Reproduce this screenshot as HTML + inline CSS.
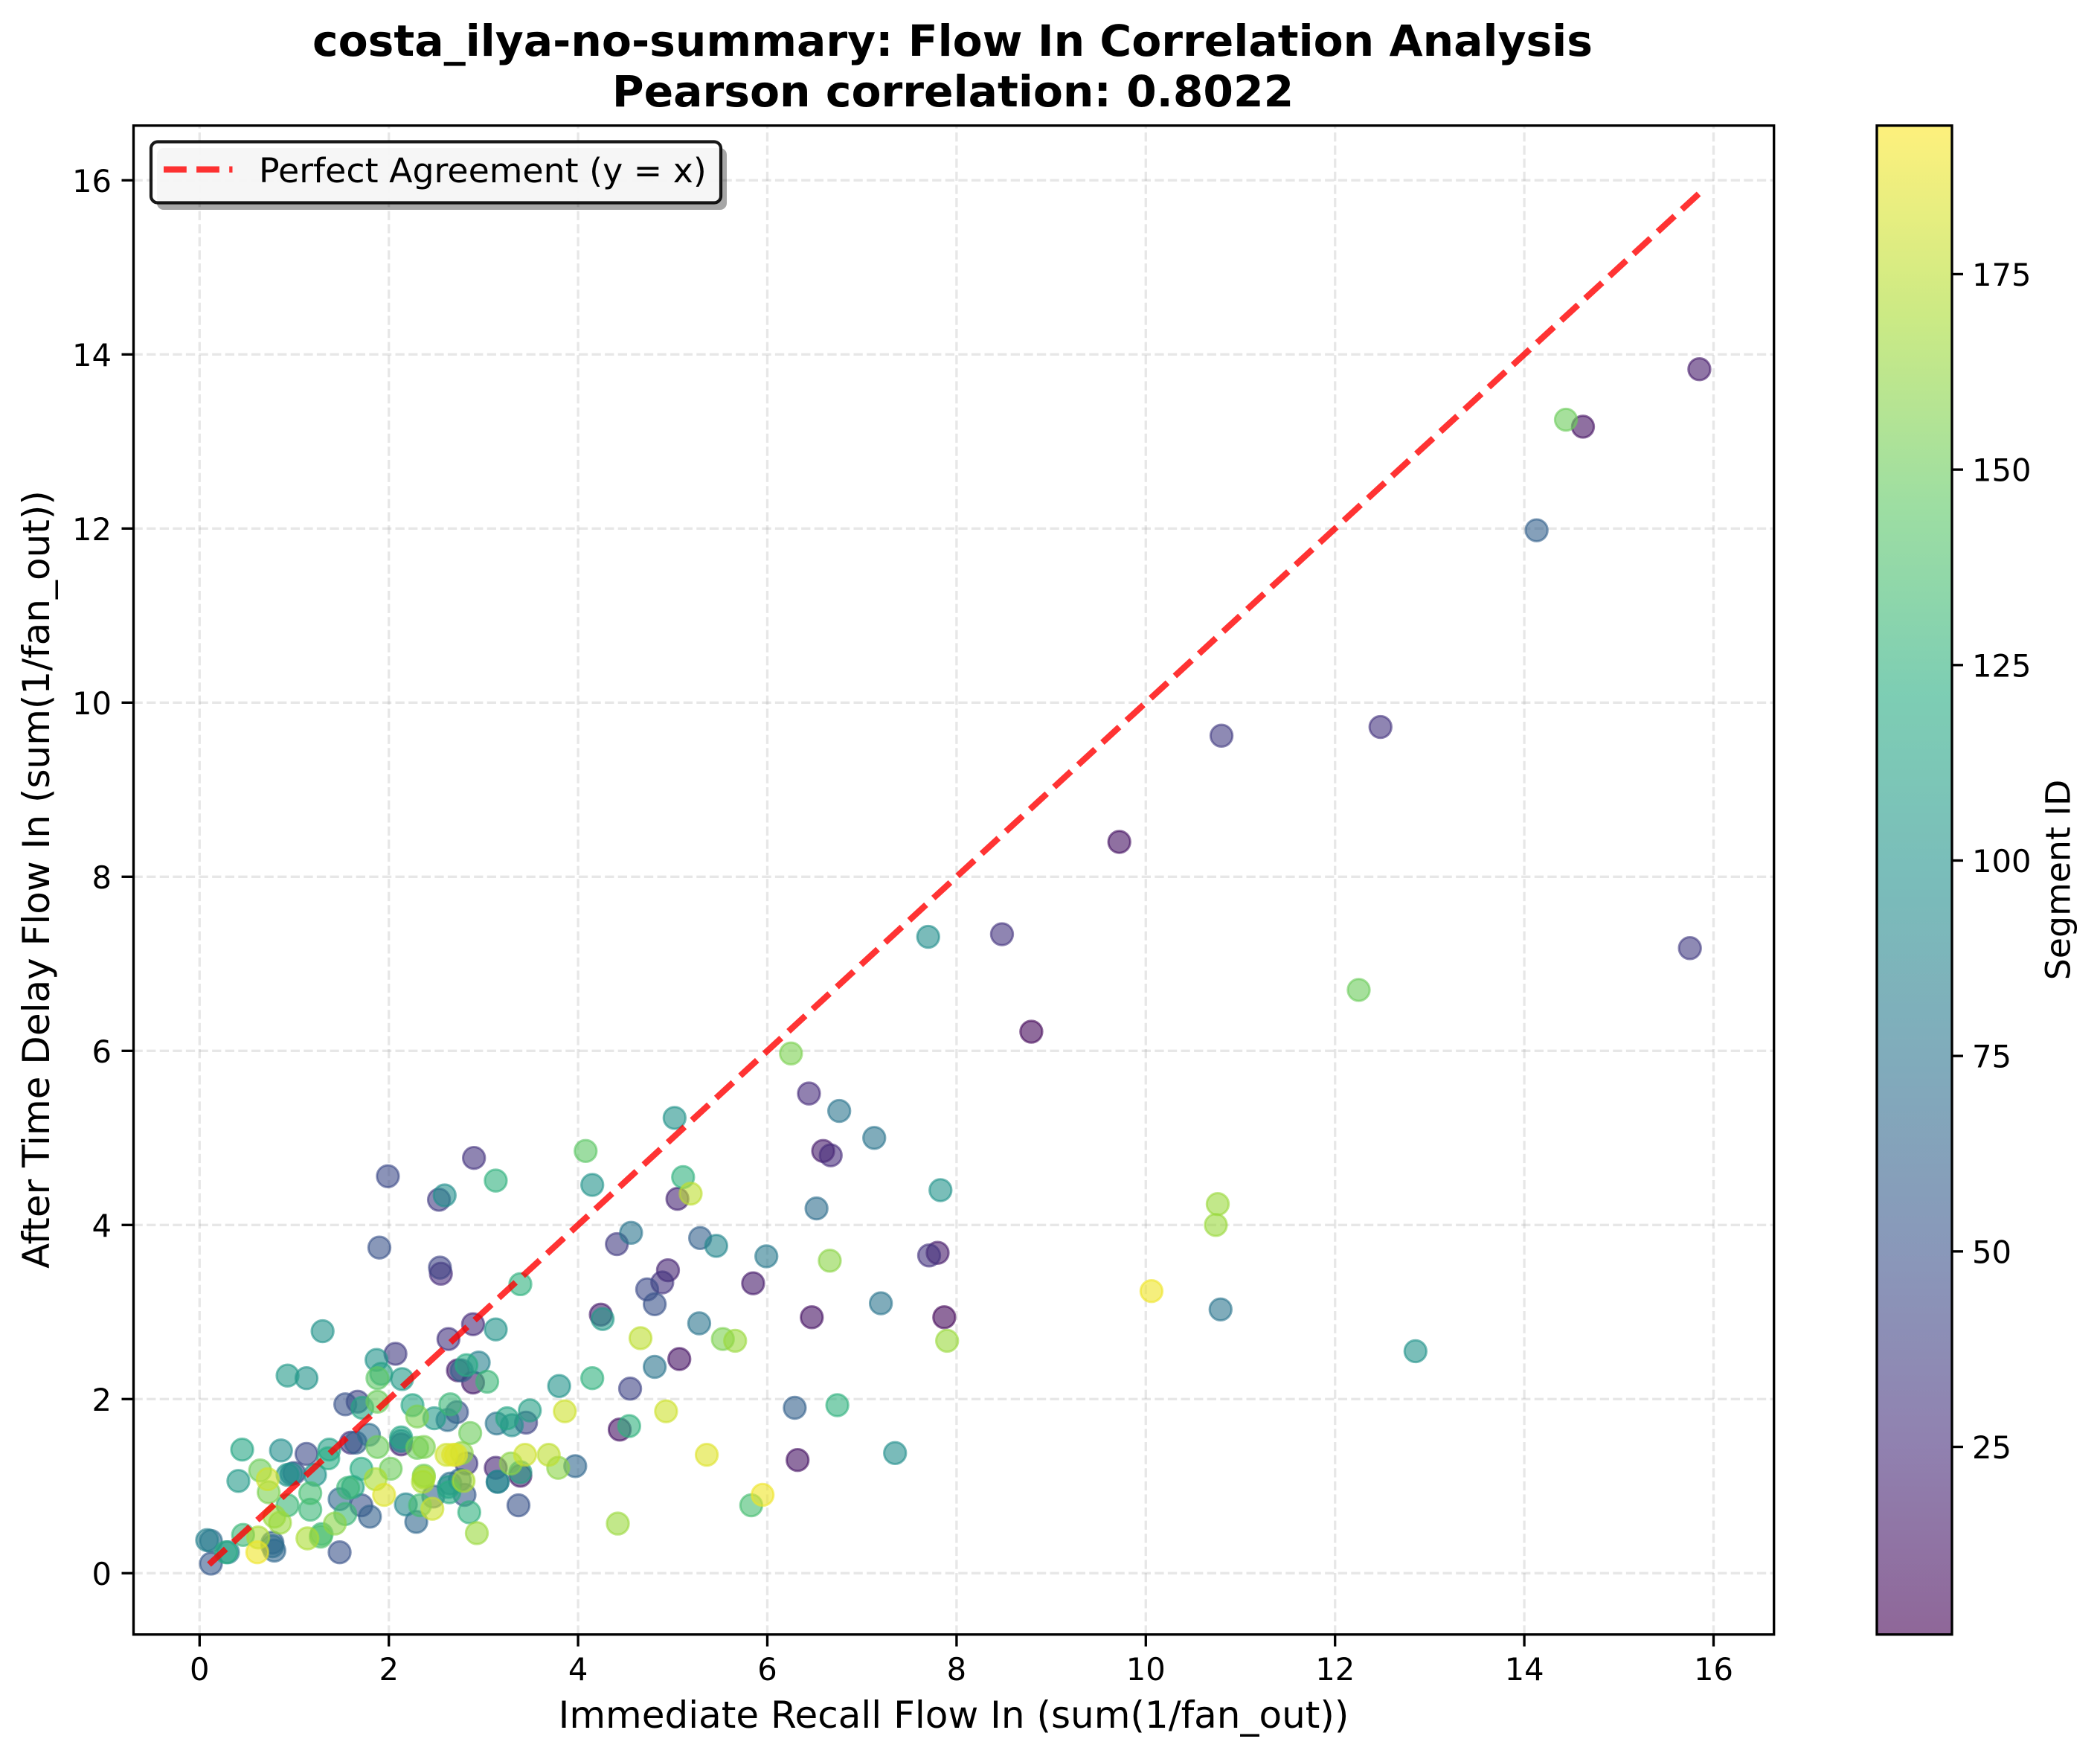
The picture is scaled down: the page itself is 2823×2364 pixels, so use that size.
<!DOCTYPE html>
<html lang="en">
<head>
<meta charset="utf-8">
<title>costa_ilya-no-summary: Flow In Correlation Analysis</title>
<style>
html,body{margin:0;padding:0;background:#fff;}
svg{display:block;}
text{font-family:"DejaVu Sans","Liberation Sans",sans-serif;fill:#000;}
</style>
</head>
<body>
<svg id="chart" xmlns="http://www.w3.org/2000/svg" width="2823" height="2364" viewBox="0 0 2823 2364">
  <defs>
    <linearGradient id="cbGradient" x1="0" y1="1" x2="0" y2="0"></linearGradient>
    <clipPath id="plotClip"><rect x="179.5" y="168.5" width="2205" height="2028"></rect></clipPath>
  </defs>
  <rect x="0" y="0" width="2823" height="2364" fill="#ffffff"></rect>
  <text x="1280.5" y="75" text-anchor="middle" font-size="58.33" font-weight="700">costa_ilya-no-summary: Flow In Correlation Analysis</text>
  <text x="1281" y="143" text-anchor="middle" font-size="58.33" font-weight="700">Pearson correlation: 0.8022</text>
  <g id="grid"></g>
  <g id="points" clip-path="url(#plotClip)"></g>
  <line id="refLine" stroke="#ff0000" stroke-opacity="0.8" stroke-width="8.33" stroke-dasharray="30.8 13.3"></line>
  <rect x="179.5" y="168.8" width="2205.2" height="2027.9" fill="none" stroke="#000" stroke-width="3.33"></rect>
  <g id="ticks"></g>
  <text x="1282" y="2322" text-anchor="middle" font-size="50">Immediate Recall Flow In (sum(1/fan_out))</text>
  <text transform="translate(66 1182) rotate(-90)" text-anchor="middle" font-size="50">After Time Delay Flow In (sum(1/fan_out))</text>
  <g>
    <rect x="211" y="199" width="766" height="83" rx="9" fill="#000" fill-opacity="0.35"></rect>
    <rect x="203" y="190.5" width="766" height="82" rx="9" fill="#fff" fill-opacity="0.9" stroke="#000" stroke-opacity="0.9" stroke-width="4.2"></rect>
    <line x1="220" y1="227.7" x2="312.5" y2="227.7" stroke="#ff0000" stroke-opacity="0.8" stroke-width="8.33" stroke-dasharray="30.8 13.3"></line>
    <text x="348" y="245" font-size="45.83">Perfect Agreement (y = x)</text>
  </g>
  <g>
    <rect x="2523" y="168.8" width="101" height="2027.9" fill="url(#cbGradient)" fill-opacity="0.6"></rect>
    <rect x="2523" y="168.8" width="101" height="2027.9" fill="none" stroke="#000" stroke-width="3.33"></rect>
    <g id="cbTicks"></g>
    <text transform="translate(2782.5 1182.5) rotate(-90)" text-anchor="middle" font-size="45.83">Segment ID</text>
  </g>
</svg>
<script>
const immediateFlow = [
1.30,0.93,1.13,2.07,1.87,1.92,1.88,2.14,2.63,2.89,2.54,2.55,1.54,1.67,1.72,1.88,2.25,2.30,2.48,2.62,
2.65,2.72,2.73,2.77,2.82,2.95,2.89,3.04,2.86,1.60,1.65,1.79,1.88,2.13,2.13,2.13,2.30,2.37,2.61,2.68,
2.71,2.77,2.82,2.37,2.36,2.37,2.65,2.64,2.63,2.79,2.75,2.80,2.85,2.93,2.18,2.33,2.47,2.46,2.29,0.45,
0.86,1.13,1.37,1.36,0.41,0.64,0.72,0.73,0.93,1.00,0.97,1.22,1.17,1.71,2.02,1.86,1.95,1.48,1.62,1.57,
1.71,1.80,1.54,0.93,1.17,0.79,0.85,1.43,1.29,1.28,1.14,1.48,0.08,0.12,0.46,0.62,0.61,0.77,0.79,0.77,
0.12,0.28,0.30,
3.39,3.13,4.95,4.89,4.73,4.81,5.85,6.47,4.24,4.26,4.66,5.28,5.53,5.66,4.81,5.07,3.80,4.15,4.55,6.29,
3.86,4.93,4.44,4.54,3.14,3.25,3.30,3.49,3.45,5.36,6.32,5.95,5.83,4.42,3.13,3.29,3.44,3.69,3.79,3.97,
3.15,3.15,3.39,3.39,3.37,
1.99,2.90,3.13,2.59,2.53,4.08,4.15,5.02,5.11,5.19,5.05,1.90,4.41,4.56,5.29,5.46,5.99,
8.79,6.25,6.44,6.76,7.13,6.59,6.67,7.83,6.52,7.71,7.80,10.76,10.74,6.66,10.06,10.79,7.20,
7.35,6.74,7.87,7.90,12.85,12.25,7.70,8.48,9.72,10.80,12.48,15.75,14.13,14.44,14.62,15.85
];
const delayedFlow = [
2.78,2.27,2.24,2.52,2.45,2.29,2.24,2.23,2.69,2.86,3.51,3.44,1.94,1.97,1.90,1.97,1.93,1.80,1.78,1.76,
1.94,1.85,2.33,2.33,2.39,2.42,2.19,2.20,1.61,1.50,1.50,1.59,1.45,1.56,1.52,1.48,1.44,1.45,1.36,1.36,
1.36,1.38,1.26,1.12,1.05,1.10,1.03,0.93,0.99,1.06,1.07,0.90,0.70,0.46,0.79,0.78,0.88,0.74,0.59,1.42,
1.41,1.37,1.42,1.32,1.06,1.18,1.08,0.93,1.13,1.15,1.14,1.13,0.92,1.20,1.20,1.08,0.90,0.85,0.99,0.98,
0.78,0.65,0.68,0.78,0.73,0.65,0.58,0.57,0.45,0.42,0.40,0.24,0.38,0.37,0.44,0.41,0.24,0.31,0.26,0.35,
0.11,0.24,0.24,
3.32,2.80,3.48,3.34,3.26,3.09,3.33,2.94,2.97,2.92,2.70,2.87,2.69,2.67,2.37,2.46,2.15,2.24,2.12,1.90,
1.86,1.86,1.65,1.69,1.72,1.78,1.70,1.87,1.73,1.36,1.30,0.90,0.78,0.57,1.21,1.26,1.36,1.36,1.21,1.23,
1.05,1.05,1.12,1.16,0.78,
4.56,4.77,4.51,4.34,4.29,4.85,4.46,5.23,4.55,4.36,4.30,3.74,3.78,3.91,3.85,3.76,3.64,
6.22,5.97,5.51,5.31,5.00,4.85,4.80,4.40,4.19,3.65,3.68,4.24,4.00,3.59,3.24,3.03,3.10,
1.38,1.93,2.94,2.67,2.55,6.70,7.31,7.34,8.40,9.62,9.72,7.18,11.98,13.25,13.17,13.83
];
const segmentIds = [
100,105,100,35,100,110,145,105,30,25,40,25,50,40,115,150,115,155,105,70,
130,50,15,60,120,85,15,130,150,30,60,70,150,115,90,20,150,155,180,185,
185,160,35,150,170,170,70,120,105,170,65,55,125,165,90,135,60,180,65,115,
95,45,110,120,105,150,180,155,100,45,90,100,135,120,150,170,185,65,115,130,
50,60,130,130,130,165,165,160,130,140,170,50,85,70,130,170,190,70,65,60,
55,120,85,
125,100,20,30,45,50,15,10,15,105,175,75,155,165,75,10,100,125,40,60,
180,180,10,125,75,115,95,110,40,185,10,190,135,165,20,160,180,175,160,65,
85,85,15,110,50,
45,30,125,95,35,145,100,100,125,175,20,50,35,75,60,90,80,
5,155,25,75,75,15,25,100,70,30,15,165,165,160,190,75,75,
95,125,5,165,100,150,95,30,10,35,30,35,60,150,10,15
];
const xTickValues = [0,2,4,6,8,10,12,14,16];
const yTickValues = [0,2,4,6,8,10,12,14,16];
const colorbarTickValues = [25,50,75,100,125,150,175];
const referenceEndpoints = [0.1,15.85];
const segmentMin = 1;
const segmentMax = 194;

const NS = 'http://www.w3.org/2000/svg';
const plotLeft = 179.5, plotRight = 2384.7, plotTop = 168.8, plotBottom = 2196.7;
const cbLeft = 2523, cbRight = 2624;
const xScale = v => 268.3 + 127.2 * v;
const yScale = v => 2114.3 - 117 * v;
const cbScale = v => plotBottom - (v - segmentMin) / (segmentMax - segmentMin) * (plotBottom - plotTop);

const viridisStops = ['#440154','#472d7b','#3b528b','#2c728e','#21908c','#27ad81','#5dc863','#aadc32','#fde725'];
function hexToRgb(h){return [1,3,5].map(i=>parseInt(h.substr(i,2),16));}
function viridis(t){
  const c = Math.min(1, Math.max(0, t)) * (viridisStops.length - 1);
  const i = Math.min(viridisStops.length - 2, Math.floor(c));
  const a = hexToRgb(viridisStops[i]), b = hexToRgb(viridisStops[i + 1]);
  const f = c - i;
  return 'rgb(' + a.map((v, k) => Math.round(v + (b[k] - v) * f)).join(',') + ')';
}
function make(tag, attrs, parent){
  const el = document.createElementNS(NS, tag);
  for (const k in attrs) el.setAttribute(k, attrs[k]);
  parent.appendChild(el);
  return el;
}

const grad = document.getElementById('cbGradient');
for (let i = 0; i <= 64; i++) {
  make('stop', {offset: (i / 64), 'stop-color': viridis(i / 64)}, grad);
}

const gridGroup = document.getElementById('grid');
const tickGroup = document.getElementById('ticks');
const gridStyle = {stroke:'#b0b0b0','stroke-opacity':0.3,'stroke-width':3.33,'stroke-dasharray':'12.3 5.3'};

xTickValues.forEach(v => {
  const px = xScale(v);
  const g = make('line', Object.assign({x1:px,y1:plotBottom,x2:px,y2:plotTop}, gridStyle), gridGroup);
  
  
  const t = make('line', {x1:px,y1:plotBottom,x2:px,y2:plotBottom+16,stroke:'#000','stroke-width':3.33}, tickGroup);
  
  
  const l = make('text', {x:px,y:2258,'text-anchor':'middle','font-size':41.67}, tickGroup);
  l.textContent = String(v);
  
  
});
yTickValues.forEach(v => {
  const py = yScale(v);
  const g = make('line', Object.assign({x1:plotLeft,y1:py,x2:plotRight,y2:py}, gridStyle), gridGroup);
  
  
  const t = make('line', {x1:plotLeft-16,y1:py,x2:plotLeft,y2:py,stroke:'#000','stroke-width':3.33}, tickGroup);
  
  
  const l = make('text', {x:150,y:py+15.5,'text-anchor':'end','font-size':41.67}, tickGroup);
  l.textContent = String(v);
  
  
});

const pointsGroup = document.getElementById('points');
const drawOrder = segmentIds.map((_, i) => i).sort((a, b) => segmentIds[a] - segmentIds[b]);
drawOrder.forEach(i => {
  const col = viridis((segmentIds[i] - segmentMin) / (segmentMax - segmentMin));
  const c = make('circle', {cx:xScale(immediateFlow[i]),cy:yScale(delayedFlow[i]),r:14.7,fill:col,'fill-opacity':0.6,stroke:col,'stroke-opacity':0.6,'stroke-width':3}, pointsGroup);
  
  
});

const ref = document.getElementById('refLine');
ref.setAttribute('x1', xScale(referenceEndpoints[0]));
ref.setAttribute('y1', yScale(referenceEndpoints[0]));
ref.setAttribute('x2', xScale(referenceEndpoints[1]));
ref.setAttribute('y2', yScale(referenceEndpoints[1]));

const cbGroup = document.getElementById('cbTicks');
colorbarTickValues.forEach(v => {
  const py = cbScale(v);
  const t = make('line', {x1:cbRight,y1:py,x2:cbRight+15,y2:py,stroke:'#000','stroke-width':3.33}, cbGroup);
  
  
  const l = make('text', {x:2651,y:py+15.5,'font-size':41.67}, cbGroup);
  l.textContent = String(v);
  
  
});
</script>
</body>
</html>
